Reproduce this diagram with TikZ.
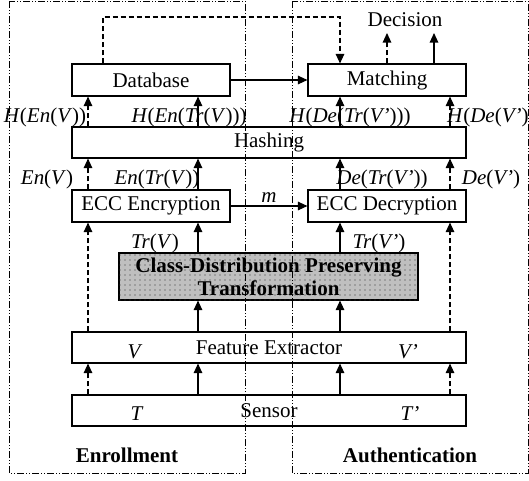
\documentclass[tikz,border=0pt]{standalone}
\usepackage{fontspec}
\setmainfont{Liberation Serif}
\usetikzlibrary{arrows.meta,patterns.meta}
\newcommand\iv[1]{\textit{#1}}
\begin{document}
\begin{tikzpicture}[x=1pt,y=-1pt,
  font=\fontsize{21}{23}\selectfont,
  box/.style={draw,line width=1.1pt,inner sep=0pt,fill=white},
  arr/.style={line width=1.1pt,-{Triangle[width=8.5pt,length=9.5pt]}},
  darr/.style={arr,dash pattern=on 5pt off 3pt},
  grp/.style={line width=1pt,dash pattern=on 7pt off 2pt on 1pt off 2pt on 1pt off 2pt},
  lbl/.style={inner sep=0pt}]
\useasboundingbox (0,0) rectangle (529,480);
% columns
\coordinate (cA) at (88,0);
\coordinate (cB) at (198,0);
\coordinate (cC) at (340,0);
\coordinate (cD) at (450,0);
\coordinate (cE) at (103,0);
\coordinate (cF) at (387,0);
\coordinate (cG) at (434,0);
\coordinate (ytop) at (0,17);
\coordinate (ydec) at (0,33);
% boxes
\node[box,minimum width=158pt,minimum height=32pt] (db) at (151,80) {Database};
\node[box,minimum width=158pt,minimum height=32pt] (match) at (387,80) {Matching};
\node[box,minimum width=394pt,minimum height=31pt] (hash) at (269,142.5) {Hashing};
\node[box,minimum width=158pt,minimum height=32pt] (enc) at (151,206) {ECC Encryption};
\node[box,minimum width=158pt,minimum height=32pt] (dec) at (387,206) {ECC Decryption};
\node[box,minimum width=299pt,minimum height=47pt,fill=black!25,
  postaction={pattern={Dots[distance=5pt,radius=0.65pt]},pattern color=black!80},
  align=center,font=\fontsize{21}{23}\selectfont\bfseries] (cdpt) at (268.5,276.5)
  {Class-Distribution Preserving\\Transformation};
\node[box,minimum width=394pt,minimum height=31pt] (feat) at (269,347.5) {Feature Extractor};
\node[box,minimum width=394pt,minimum height=31pt] (sens) at (269,410.5) {Sensor};
\node (decision) at (405,20) {Decision};
% labels inside boxes
\node[lbl] (lV) at (135,352) {\iv{V}};
\node[lbl] (lVp) at (408,352) {\iv{V’}};
\node[lbl] (lT) at (137,414) {\iv{T}};
\node[lbl] (lTp) at (410,414) {\iv{T’}};
% sensor -> feature
\draw[darr] (sens.north -| cA) -- (feat.south -| cA);
\draw[arr] (sens.north -| cB) -- (feat.south -| cB);
\draw[arr] (sens.north -| cC) -- (feat.south -| cC);
\draw[darr] (sens.north -| cD) -- (feat.south -| cD);
% feature -> cdpt / ecc
\draw[darr] (feat.north -| cA) -- (enc.south -| cA);
\draw[arr] (feat.north -| cB) -- (cdpt.south -| cB);
\draw[arr] (feat.north -| cC) -- (cdpt.south -| cC);
\draw[darr] (feat.north -| cD) -- (dec.south -| cD);
% cdpt -> ecc
\draw[arr] (cdpt.north -| cB) -- (enc.south -| cB);
\draw[arr] (cdpt.north -| cC) -- (dec.south -| cC);
% ecc -> hashing
\draw[darr] (enc.north -| cA) -- (hash.south -| cA);
\draw[arr] (enc.north -| cB) -- (hash.south -| cB);
\draw[arr] (dec.north -| cC) -- (hash.south -| cC);
\draw[darr] (dec.north -| cD) -- (hash.south -| cD);
% hashing -> db / matching
\draw[darr] (hash.north -| cA) -- (db.south -| cA);
\draw[arr] (hash.north -| cB) -- (db.south -| cB);
\draw[arr] (hash.north -| cC) -- (match.south -| cC);
\draw[darr] (hash.north -| cD) -- (match.south -| cD);
% enc -> dec
\draw[arr] (enc.east) -- (dec.west) node[midway,above=3pt,inner sep=0pt] (lm) {\iv{m}};
% db -> matching
\draw[arr] (db.east) -- (match.west);
\draw[darr] (db.north -| cE) |- (cC |- ytop) -- (match.north -| cC);
% matching -> decision
\draw[darr] (match.north -| cF) -- (cF |- ydec);
\draw[arr] (match.north -| cG) -- (cG |- ydec);
% labels
\node[lbl] (l1) at (45,117) {\iv{H}(\iv{En}(\iv{V}))};
\node[lbl] (l2) at (189,117) {\iv{H}(\iv{En}(\iv{Tr}(\iv{V})))};
\node[lbl] (l3) at (350,117) {\iv{H}(\iv{De}(\iv{Tr}(\iv{V’})))};
\node[lbl,anchor=west] (l4) at (447,117) {\iv{H}(\iv{De}(\iv{V’})};
\node[lbl] (l5) at (47,179) {\iv{En}(\iv{V})};
\node[lbl] (l6) at (157,179) {\iv{En}(\iv{Tr}(\iv{V}))};
\node[lbl] (l7) at (382,179) {\iv{De}(\iv{Tr}(\iv{V’}))};
\node[lbl] (l8) at (491,179) {\iv{De}(\iv{V’})};
\node[lbl] (l9) at (155,243) {\iv{Tr}(\iv{V})};
\node[lbl] (l10) at (379,243) {\iv{Tr}(\iv{V’})};
% groups
\draw[grp] (9,1) rectangle (245,473);
\draw[grp] (292,1) rectangle (528,473);
\node[font=\fontsize{21}{23}\selectfont\bfseries] (enr) at (127,455) {Enrollment};
\node[font=\fontsize{21}{23}\selectfont\bfseries] (aut) at (410,455) {Authentication};
\end{tikzpicture}
\end{document}
